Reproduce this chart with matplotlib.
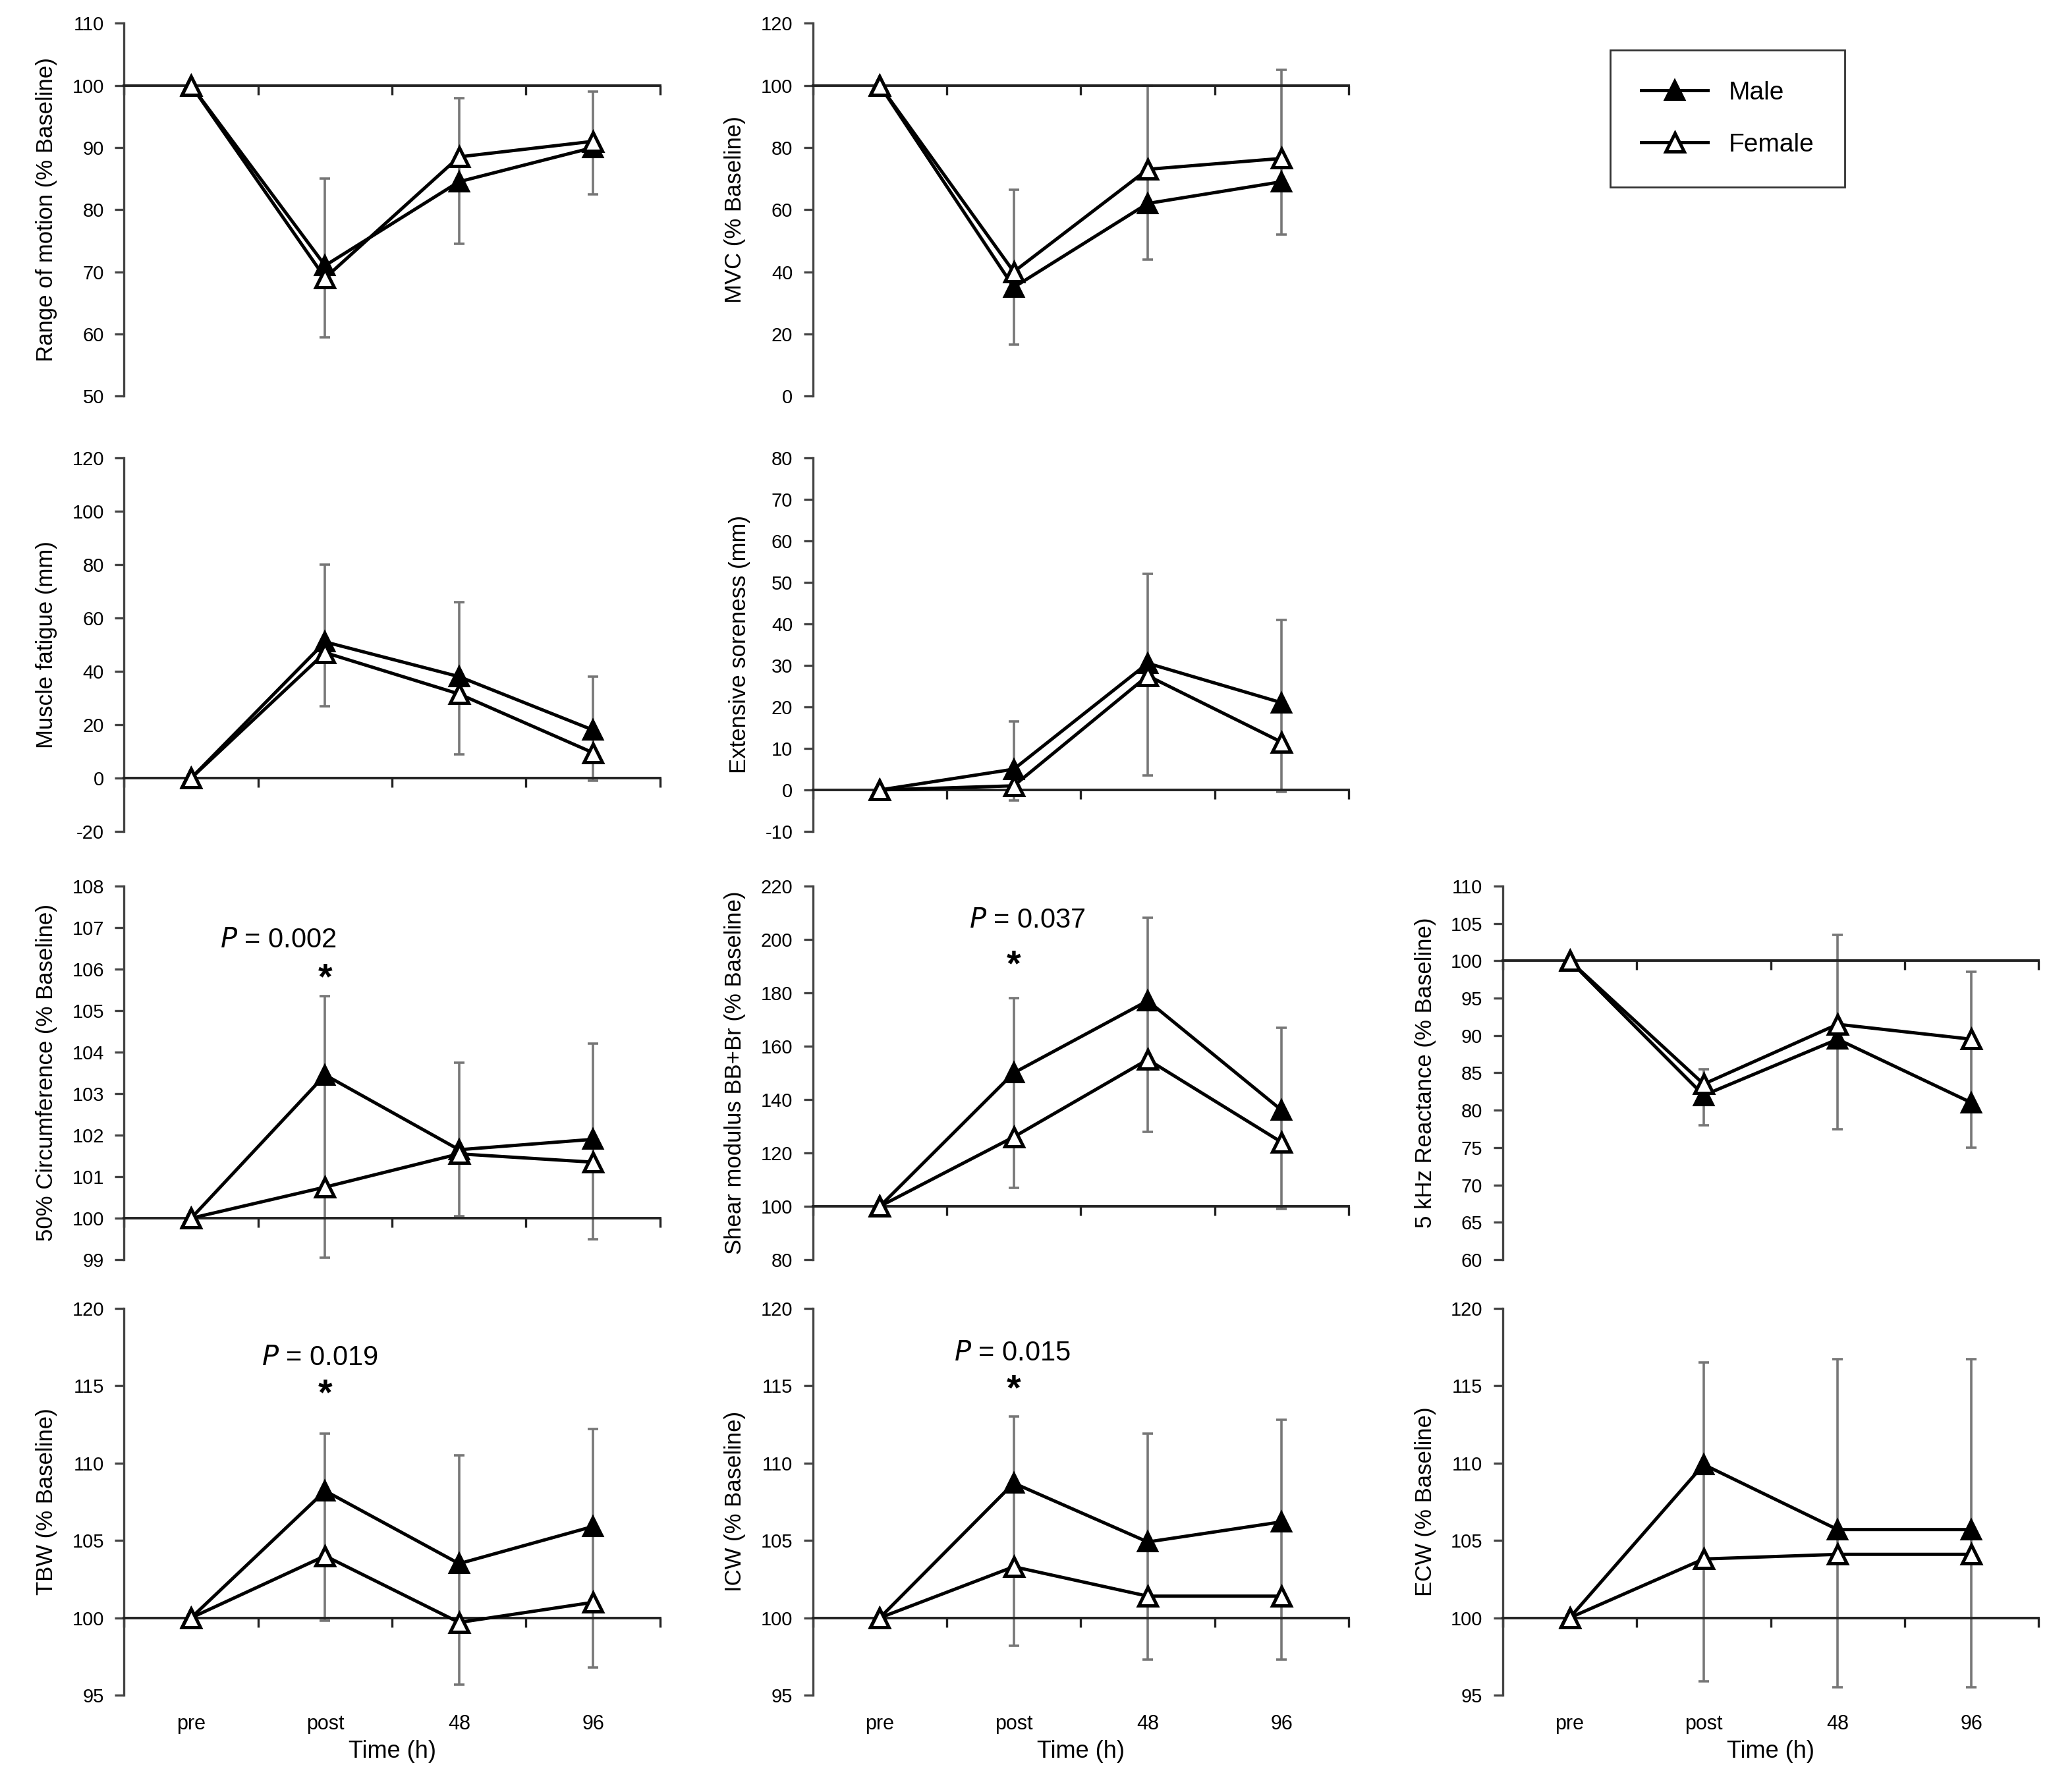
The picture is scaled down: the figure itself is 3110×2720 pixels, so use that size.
import matplotlib
matplotlib.use('Agg')
import matplotlib.pyplot as pp
import numpy as np

pp.rcParams['font.family'] = 'Liberation Sans'

times = ['pre', 'post', '48', '96']

# each panel: label, ylim, step, baseline, male, female, error bar ends (lo, hi) for post/48/96
rom_male = [100, 71, 84.5, 90]
rom_female = [100, 69, 88.5, 91]
rom_err = [(59.5, 85), (74.5, 98), (82.5, 99)]

mvc_male = [100, 35, 62, 69]
mvc_female = [100, 40, 73, 76.5]
mvc_err = [(16.5, 66.5), (44, 100), (52, 105)]

fat_male = [0, 51, 38, 18]
fat_female = [0, 47, 31.5, 9.5]
fat_err = [(27, 80), (9, 66), (-1, 38)]

sor_male = [0, 5, 30.5, 21]
sor_female = [0, 1, 27.5, 11.5]
sor_err = [(-2.5, 16.5), (3.5, 52), (-0.5, 41)]

circ_male = [100, 103.45, 101.65, 101.9]
circ_female = [100, 100.75, 101.55, 101.35]
circ_err = [(99.05, 105.35), (100.05, 103.75), (99.5, 104.2)]

shear_male = [100, 150, 177, 136]
shear_female = [100, 126, 155, 124]
shear_err = [(107, 178), (128, 208), (99, 167)]

xc_male = [100, 82, 89.5, 81]
xc_female = [100, 83.5, 91.5, 89.5]
xc_err = [(78, 85.5), (77.5, 103.5), (75, 98.5)]

tbw_male = [100, 108.2, 103.5, 105.9]
tbw_female = [100, 104, 99.7, 101]
tbw_err = [(99.8, 111.9), (95.7, 110.5), (96.8, 112.2)]

icw_male = [100, 108.7, 104.9, 106.2]
icw_female = [100, 103.3, 101.4, 101.4]
icw_err = [(98.2, 113), (97.3, 111.9), (97.3, 112.8)]

ecw_male = [100, 109.9, 105.7, 105.7]
ecw_female = [100, 103.8, 104.1, 104.1]
ecw_err = [(95.9, 116.5), (95.5, 116.7), (95.5, 116.7)]

panels = [
    # row, col, ylabel, ymin, ymax, step, base, male, female, err, p-text
    (0, 0, 'Range of motion (% Baseline)', 50, 110, 10, 100, rom_male, rom_female, rom_err, None),
    (0, 1, 'MVC (% Baseline)', 0, 120, 20, 100, mvc_male, mvc_female, mvc_err, None),
    (1, 0, 'Muscle fatigue (mm)', -20, 120, 20, 0, fat_male, fat_female, fat_err, None),
    (1, 1, 'Extensive soreness (mm)', -10, 80, 10, 0, sor_male, sor_female, sor_err, None),
    (2, 0, '50% Circumference (% Baseline)', 99, 108, 1, 100, circ_male, circ_female, circ_err,
     ('0.002', 1.15, 106.7, 105.75)),
    (2, 1, 'Shear modulus BB+Br (% Baseline)', 80, 220, 20, 100, shear_male, shear_female, shear_err,
     ('0.037', 1.6, 207, 190)),
    (2, 2, '5 kHz Reactance (% Baseline)', 60, 110, 5, 100, xc_male, xc_female, xc_err, None),
    (3, 0, 'TBW (% Baseline)', 95, 120, 5, 100, tbw_male, tbw_female, tbw_err,
     ('0.019', 1.46, 116.8, 114.4)),
    (3, 1, 'ICW (% Baseline)', 95, 120, 5, 100, icw_male, icw_female, icw_err,
     ('0.015', 1.49, 117.1, 114.7)),
    (3, 2, 'ECW (% Baseline)', 95, 120, 5, 100, ecw_male, ecw_female, ecw_err, None),
]

fig = pp.figure(figsize=(15.55, 13.6), dpi=200)
lefts = [0.0606, 0.3967, 0.7334]
bottoms = [0.779, 0.536, 0.297, 0.054]
heights = [0.208, 0.2086, 0.2086, 0.216]
xs = np.arange(4) + 0.5

for row, col, ylabel, ymin, ymax, step, base, male, female, err, ptxt in panels:
    ax = fig.add_axes([lefts[col], bottoms[row], 0.2615, heights[row]])
    ax.set_xlim(0, 4)
    ax.set_ylim(ymin, ymax)
    ax.set_yticks(np.arange(ymin, ymax + step / 2, step))
    ax.yaxis.set_major_formatter(matplotlib.ticker.FormatStrFormatter('%g'))
    for s in ['top', 'right']:
        ax.spines[s].set_visible(False)
    ax.spines['bottom'].set_position(('data', base))
    ax.spines['left'].set_color('#444444')
    ax.spines['bottom'].set_color('#222222')
    ax.spines['left'].set_linewidth(1.2)
    ax.spines['bottom'].set_linewidth(1.4)
    ax.set_xticks([0, 1, 2, 3, 4])
    ax.set_xticklabels([])
    ax.tick_params(axis='x', direction='out', length=5, width=1.2, color='#222222')
    ax.tick_params(axis='y', direction='out', length=5, width=1.2, color='#444444',
                   labelsize=10.5, pad=6)
    ax.set_ylabel(ylabel, fontsize=12.5, labelpad=8)

    for x, (lo, hi) in zip(xs[1:], err):
        ax.errorbar([x], [(lo + hi) / 2], yerr=[[(hi - lo) / 2], [(hi - lo) / 2]],
                    fmt='none', ecolor='#777777', elinewidth=1.3, capsize=3, capthick=1.3, zorder=2)
    ax.plot(xs, male, color='black', lw=1.8, marker='^', ms=10, mfc='black', mec='black',
            mew=1.5, zorder=4, label='Male', clip_on=False)
    ax.plot(xs, female, color='black', lw=1.8, marker='^', ms=10, mfc='white', mec='black',
            mew=1.8, zorder=5, label='Female', clip_on=False)

    if ptxt is not None:
        pv, px, py, sy = ptxt
        ax.text(px, py, '$\\it{P}$ = ' + pv, ha='center', va='center', fontsize=15)
        ax.text(1.5, sy, '*', ha='center', va='center', fontsize=20, fontweight='bold')

    if row == 3:
        yl = ymin - (ymax - ymin) * 0.075
        for x, t in zip(xs, times):
            ax.text(x, yl, t, ha='center', va='center', fontsize=11)
        ax.text(2, ymin - (ymax - ymin) * 0.145, 'Time (h)', ha='center', va='center', fontsize=13)

    if row == 0 and col == 1:
        handles, labels = ax.get_legend_handles_labels()

fig.legend(handles, labels, loc='upper left', bbox_to_anchor=(0.786, 0.972),
           fontsize=14, frameon=True, fancybox=False, edgecolor='black',
           borderpad=1.2, labelspacing=1.1, handlelength=2.6, borderaxespad=0)

pp.savefig('out.png', dpi=200)
